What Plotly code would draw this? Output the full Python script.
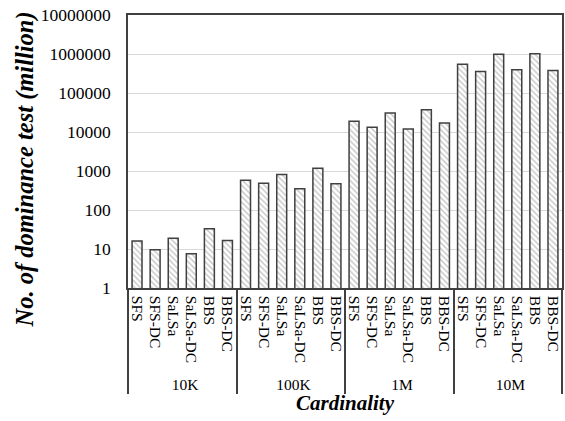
import plotly.graph_objects as go

# Cardinality groups and algorithms (two-level category axis)
cardinalities = ["10K", "100K", "1M", "10M"]
algorithms = ["SFS", "SFS-DC", "SaLSa", "SaLSa-DC", "BBS", "BBS-DC"]

# Number of dominance tests (million) per cardinality, in algorithm order
tests_10k = [16, 9.5, 19, 7.5, 33, 16.5]
tests_100k = [580, 485, 810, 350, 1170, 470]
tests_1m = [19000, 13200, 30500, 12000, 37000, 17000]
tests_10m = [545000, 355000, 980000, 395000, 1010000, 380000]

# Y-axis ticks
y_tickvals = [1, 10, 100, 1000, 10000, 100000, 1000000, 10000000]
y_ticktext = ["1", "10", "100", "1000", "10000", "100000", "1000000", "10000000"]

groups = []
algs = []
values = []
for card, vals in zip(cardinalities, [tests_10k, tests_100k, tests_1m, tests_10m]):
    for alg, v in zip(algorithms, vals):
        groups.append(card)
        algs.append(alg)
        values.append(v)

FONT = "Liberation Serif"

fig = go.Figure(
    go.Bar(
        x=[groups, algs],
        y=values,
        width=0.55,
        marker=dict(
            color="white",
            line=dict(color="#404040", width=1.5),
            pattern=dict(shape="\\", fgcolor="#8a8a8a", bgcolor="white", size=4, solidity=0.35),
        ),
    )
)

fig.update_layout(
    width=565,
    height=421,
    margin=dict(l=128, r=1, t=15, b=133),
    paper_bgcolor="white",
    plot_bgcolor="white",
    showlegend=False,
    font=dict(family=FONT, color="black"),
)

fig.update_yaxes(
    type="log",
    range=[0, 7],
    tickvals=y_tickvals,
    ticktext=y_ticktext,
    tickfont=dict(size=17.5, family=FONT, color="black"),
    ticklabelstandoff=12,
    showgrid=True,
    gridcolor="#d9d9d9",
    gridwidth=1,
    showline=True,
    linecolor="#404040",
    linewidth=1.5,
    mirror=True,
    ticks="",
    ticklen=0,
    zeroline=False,
)

# Y-axis title, placed as a rotated annotation
fig.add_annotation(
    text="<b><i>No. of dominance test (million)</i></b>",
    textangle=-90,
    xref="paper", yref="paper",
    x=-(128 - 25) / 436, y=(288 - 169) / 273,
    xanchor="center", yanchor="middle",
    showarrow=False,
    font=dict(size=24.5, family=FONT, color="black"),
)

fig.update_xaxes(
    type="multicategory",
    tickmode="linear",
    tick0=0,
    dtick=1,
    tickangle=90,
    tickfont=dict(size=15.5, family=FONT, color="black"),
    ticklabelstandoff=3,
    showline=True,
    linecolor="#404040",
    linewidth=1.5,
    mirror=True,
    showgrid=False,
    showdividers=True,
    dividercolor="#404040",
    dividerwidth=1.5,
    ticks="",
    title=dict(
        text="<b><i>Cardinality</i></b>",
        font=dict(size=21, family=FONT, color="black"),
        standoff=3,
    ),
)

fig.write_html("out.html")
